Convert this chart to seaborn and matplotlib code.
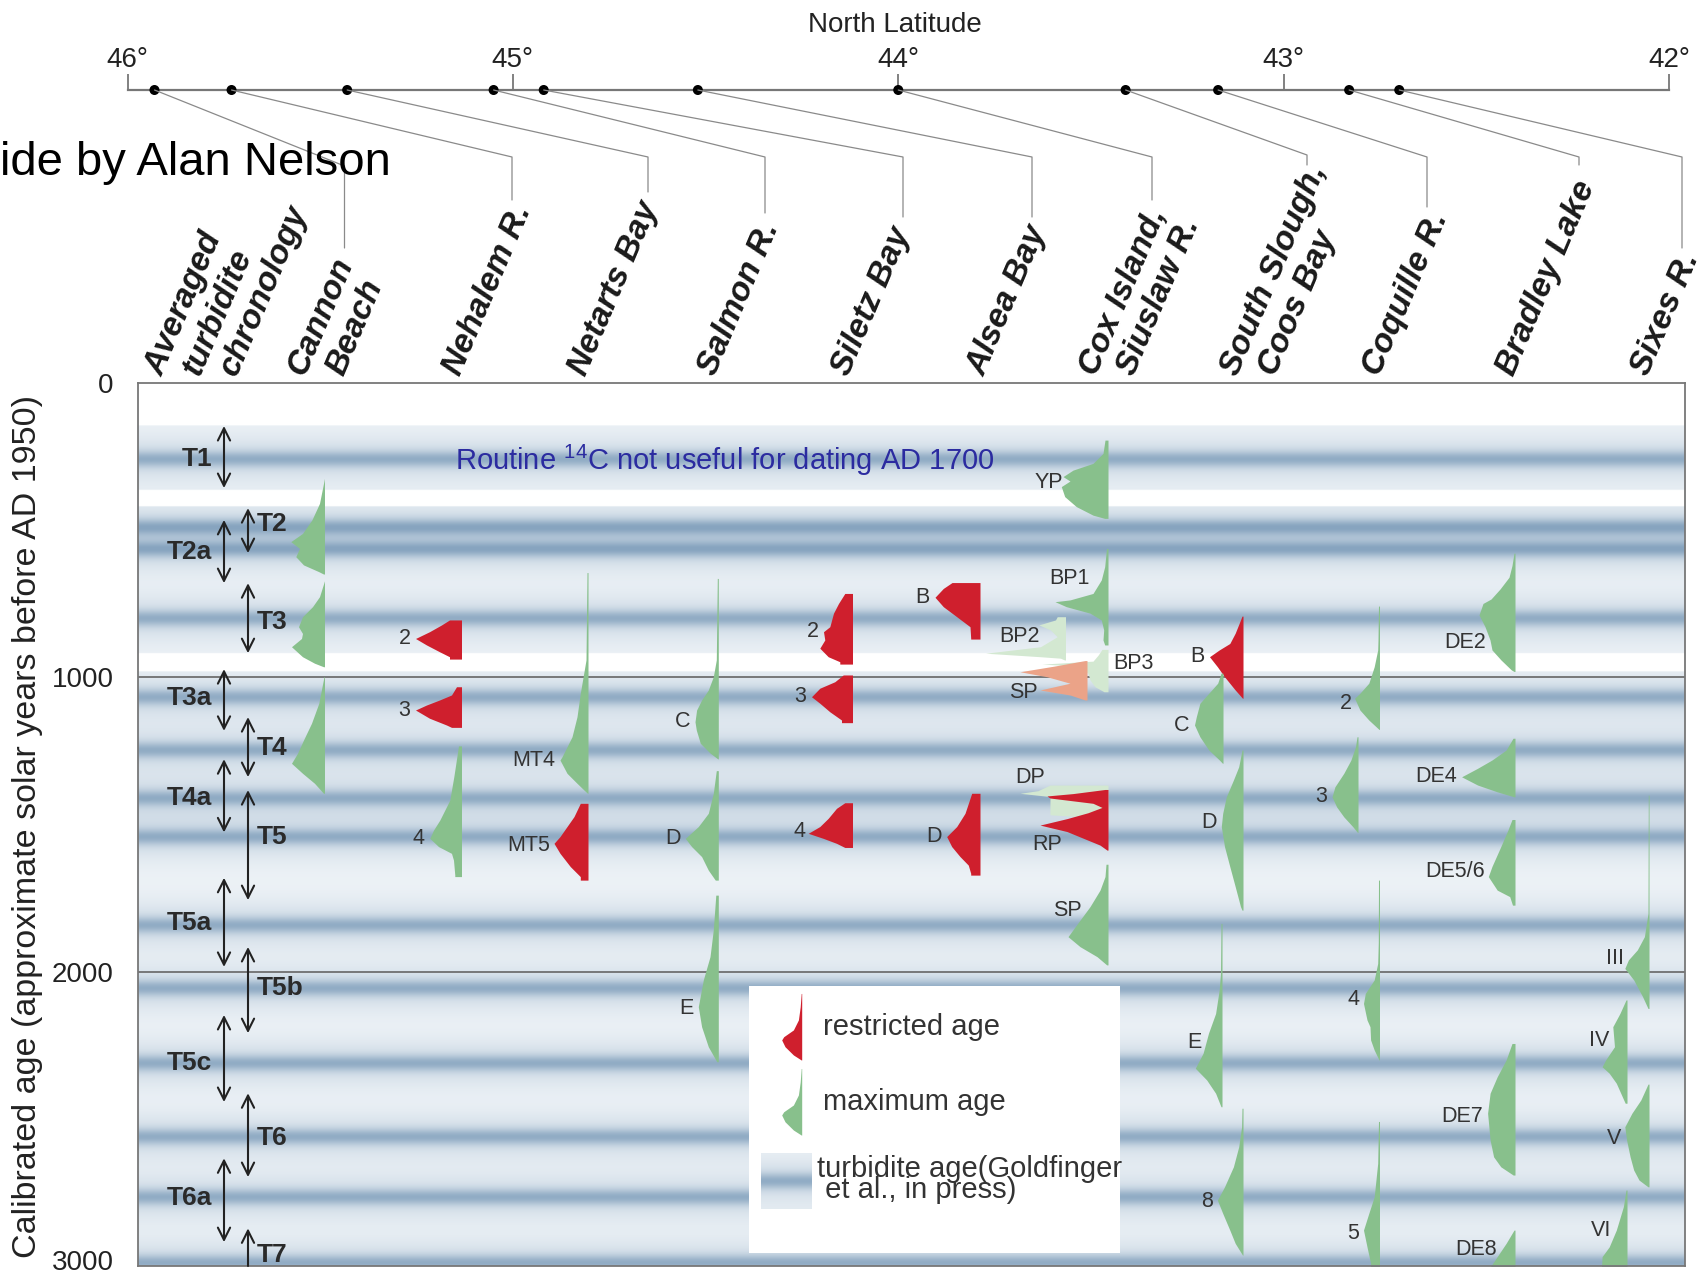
import numpy as np
import matplotlib
matplotlib.use("Agg")
import matplotlib.pyplot as plt
from matplotlib.lines import Line2D
from matplotlib.patches import Rectangle
from matplotlib.transforms import ScaledTranslation
import seaborn as sns

sns.set_style("white")
plt.rcParams["font.family"] = ["Liberation Sans", "DejaVu Sans"]
plt.rcParams["mathtext.fontset"] = "custom"
plt.rcParams["mathtext.rm"] = "Liberation Sans"

W, H = 1708, 1276

# ---------------- data ----------------
site_names = ["Averaged\nturbidite\nchronology", "Cannon\nBeach", "Nehalem R.", "Netarts Bay",
              "Salmon R.", "Siletz Bay", "Alsea Bay", "Cox Island,\nSiuslaw R.",
              "South Slough,\nCoos Bay", "Coquille R.", "Bradley Lake", "Sixes R."]
site_lat = [45.93, 45.73, 45.43, 45.05, 44.92, 44.52, 44.00, 43.41, 43.17, 42.83, 42.70]

# turbidite stripe ages (Goldfinger et al.)
stripe_age = [258, 489, 564, 799, 1067, 1247, 1410, 1542, 1842, 2056, 2311, 2561, 2766, 2990]
gap_age = [(0, 143), (363, 418), (918, 979)]

# averaged turbidite chronology (arrow spans)
left_names = ["T1", "T2a", "T3a", "T4a", "T5a", "T5c", "T6a"]
left_span = [(146, 357), (465, 680), (972, 1182), (1278, 1527), (1681, 1984), (2147, 2443), (2634, 2919)]
left_label_age = [258, 574, 1070, 1410, 1835, 2311, 2770]
right_names = ["T2", "T3", "T4", "T5", "T5b", "T6", "T7"]
right_span = [(425, 578), (680, 918), (1135, 1339), (1383, 1757), (1916, 2209), (2413, 2698), (2872, 3000)]
right_label_age = [479, 812, 1240, 1542, 2056, 2566, 2963]

# age distributions: (label, kind, ages, density widths, label age)
cannon = [
    ("", "maximum", [324, 409, 465, 511, 539, 562, 590, 618, 641, 649], [0, 5, 12.6, 22, 33.7, 25, 28.7, 21, 5.7, 1], 0),
    ("", "maximum", [672, 726, 760, 794, 828, 851, 868, 896, 930, 952, 964], [0, 5, 12, 22, 26, 22, 23, 33, 22, 10, 1], 0),
    ("", "maximum", [998, 1088, 1156, 1213, 1258, 1292, 1326, 1360, 1394], [0.5, 5.7, 13, 21, 27, 33, 22, 10, 1], 0),
]
nehalem = [
    ("2", "restricted", [805, 822, 845, 868, 890, 913, 930, 938], [12, 20, 32, 46, 35, 22, 12, 12], 868),
    ("3", "restricted", [1032, 1060, 1077, 1094, 1111, 1139, 1162, 1170], [5, 10, 22, 35, 46, 32, 15, 10], 1111),
    ("4", "maximum", [1233, 1338, 1417, 1485, 1519, 1547, 1575, 1598, 1621, 1672, 1677],
     [3, 7.7, 11.7, 21.7, 28, 31.7, 23, 10, 8, 6.7, 6.7], 1547),
]
netarts = [
    ("MT4", "maximum", [644, 941, 1054, 1134, 1202, 1270, 1281, 1326, 1360, 1383, 1394],
     [1, 2, 7.7, 11, 16, 26, 28, 21, 11, 4, 0.5], 1281),
    ("MT5", "restricted", [1428, 1473, 1507, 1541, 1564, 1598, 1643, 1677, 1689],
     [7.7, 14, 21, 28, 34, 28, 17.7, 7.7, 7.7], 1570),
]
salmon = [
    ("C", "maximum", [664, 941, 998, 1043, 1077, 1111, 1151, 1179, 1224, 1258, 1277],
     [1, 2, 5, 10, 16.7, 21.7, 23.3, 22, 18, 8, 0.5], 1151),
    ("D", "maximum", [1317, 1394, 1462, 1507, 1547, 1575, 1609, 1655, 1689], [2, 5, 10, 20, 33, 26.7, 16.7, 10, 3], 1547),
    ("E", "maximum", [1740, 1858, 1949, 2028, 2119, 2187, 2255, 2306], [2.5, 5, 8.3, 15, 20, 16.7, 10, 1.5], 2125),
]
siletz = [
    ("2", "restricted", [715, 749, 782, 828, 845, 873, 901, 930, 947, 955],
     [7.7, 14, 19, 22.7, 29, 27.7, 32.7, 24.3, 12.7, 12.7], 845),
    ("3", "restricted", [992, 1015, 1037, 1066, 1088, 1117, 1145, 1154], [9.3, 17.7, 32.7, 41, 32.7, 22.7, 11, 11], 1066),
    ("4", "restricted", [1426, 1445, 1479, 1507, 1530, 1547, 1564, 1578], [7.7, 16, 24.3, 32.7, 44.3, 29.3, 16, 7.7], 1525),
]
alsea = [
    ("B", "restricted", [678, 698, 728, 760, 794, 828, 868, 870], [28, 36.7, 45, 36.7, 23.3, 10, 9.3, 9.3], 728),
    ("D", "restricted", [1394, 1462, 1507, 1541, 1575, 1609, 1638, 1666, 1672],
     [8.3, 15, 23.3, 33.3, 28.3, 20, 11.7, 9.3, 9.3], 1541),
]
cox = [
    ("YP", "maximum", [194, 239, 273, 296, 318, 333, 352, 386, 420, 449, 460],
     [3, 5, 15, 35, 45, 38, 46.7, 43.3, 31.7, 15, 3.3], 338),
    ("BP1", "maximum", [562, 624, 669, 715, 737, 743, 760, 782, 805, 839, 873, 890],
     [1.5, 3.3, 6.7, 15, 38, 53, 41.7, 18, 6.7, 4.3, 5, 3.3], 664),
    ("BP2", "pale", [794, 805, 822, 839, 862, 896, 918, 930, 935, 941], [8.3, 10, 26.7, 15, 8.3, 25, 80, 25, 5, 1], 860),
    ("BP3", "pale", [905, 925, 945, 955, 962, 986, 1009, 1032, 1049], [6, 10, 15, 66, 30, 20, 18, 13, 4], 952),
    ("SP", "salmon", [943, 962, 981, 998, 1020, 1043, 1060, 1077], [2, 33, 67, 40, 17, 47, 17, 2], 1053),
    ("DP", "pale", [1366, 1385, 1394, 1405, 1440, 1467, 1475], [58, 70, 88, 58, 58, 58, 20], 1341),
    ("RP", "restricted", [1381, 1395, 1403, 1410, 1428, 1442, 1460, 1480, 1502, 1524, 1570, 1587],
     [3, 35, 61, 58, 15, 6, 20, 41, 68, 41, 8, 1], 1568),
    ("SP", "maximum", [1635, 1677, 1723, 1779, 1825, 1881, 1915, 1949, 1977], [2, 3, 8, 18, 28, 40, 28, 11, 1.3], 1793),
]
coos = [
    ("B", "restricted", [792, 805, 850, 885, 907, 930, 964, 998, 1043, 1071],
     [1, 2.5, 7.8, 13.2, 23.8, 33.5, 25.6, 18.5, 7.8, 0.5], 930),
    ("C", "maximum", [986, 1020, 1054, 1088, 1134, 1162, 1202, 1247, 1281, 1292],
     [2, 5.3, 14.2, 23.1, 26.7, 28.5, 23.1, 14.2, 3.6, 0.5], 1162),
    ("D", "maximum", [1247, 1304, 1349, 1406, 1462, 1507, 1575, 1643, 1711, 1779, 1791],
     [1, 4.3, 9.6, 16.7, 20.3, 21.7, 18.5, 13.2, 7.8, 2.5, 1], 1493),
    ("E", "maximum", [1836, 2006, 2062, 2142, 2209, 2277, 2328, 2368, 2413, 2459],
     [1, 1.5, 2.8, 6.4, 13.5, 18.9, 26.7, 15.3, 6.4, 1], 2240),
    ("8", "maximum", [2464, 2527, 2595, 2663, 2731, 2776, 2821, 2878, 2923, 2963],
     [1, 1.4, 4.3, 9.6, 18.5, 25.6, 20.3, 13.2, 7.8, 0.5], 2781),
]
coquille = [
    ("2", "maximum", [758, 873, 907, 964, 1020, 1054, 1071, 1111, 1145, 1177],
     [1, 1.5, 1.8, 5.3, 10.7, 19.6, 24.9, 19.6, 10.7, 0.5], 1090),
    ("3", "maximum", [1202, 1236, 1281, 1326, 1372, 1406, 1440, 1474, 1507, 1527],
     [1, 2.5, 7.1, 14.2, 23.1, 26, 21.4, 14.2, 5.3, 0.5], 1404),
    ("4", "maximum", [1689, 1900, 1972, 2028, 2074, 2108, 2164, 2187, 2232, 2266, 2300],
     [1, 1.2, 1.8, 5.3, 14.2, 16, 12.5, 9.5, 8.9, 5.3, 0.5], 2093),
    ("5", "maximum", [2509, 2651, 2765, 2821, 2878, 2935, 2991, 3010], [1, 1.8, 5.3, 10.7, 16, 12.5, 8.9, 8.9], 2888),
]
bradley = [
    ("DE2", "maximum", [578, 620, 660, 700, 734, 749, 788, 828, 873, 907, 941, 975, 980],
     [1, 3, 6, 15, 24, 32, 36, 30, 25, 23, 14, 3.6, 1], 882),
    ("DE4", "maximum", [1207, 1247, 1281, 1309, 1338, 1366, 1389, 1406], [2, 8.9, 23.1, 37.4, 53.4, 37.4, 17.8, 1], 1338),
    ("DE5/6", "maximum", [1483, 1519, 1575, 1643, 1677, 1723, 1745, 1774], [3, 7.1, 14.2, 23.1, 26.7, 17.8, 5.3, 2.5], 1659),
    ("DE7", "maximum", [2244, 2300, 2357, 2413, 2481, 2572, 2629, 2663, 2691],
     [3, 8.9, 17.8, 24.9, 27.4, 24.9, 21.4, 14.2, 1.8], 2492),
    ("DE8", "maximum", [2878, 2923, 2968, 3010], [1, 8.9, 17.8, 26], 2943),
]
sixes = [
    ("III", "maximum", [1400, 1802, 1881, 1926, 1960, 1989, 2028, 2085, 2125],
     [0.7, 1, 4.6, 11.7, 20.6, 24.2, 15.3, 6.4, 1], 1956),
    ("IV", "maximum", [2096, 2142, 2187, 2255, 2300, 2323, 2345, 2379, 2447],
     [1, 7.1, 14.2, 12.5, 21.4, 24.9, 17.8, 10.7, 1.8], 2233),
    ("V", "maximum", [2382, 2436, 2481, 2527, 2572, 2629, 2674, 2708, 2731],
     [1, 8.2, 17.1, 24.2, 22.4, 18.9, 15.3, 10, 1], 2566),
    ("VI", "maximum", [2742, 2798, 2878, 2935, 2968, 3010], [1, 3.6, 10.7, 17.8, 24.9, 25.6], 2881),
]
legend_ages = [0, 46, 90, 124, 147, 158, 181, 209, 226]
legend_widths = [0.5, 1.5, 3.3, 8.3, 18, 20, 16.7, 8.3, 0.5]

# ---------------- layout (pixel positions) ----------------
site_dists = [cannon, nehalem, netarts, salmon, siletz, alsea, cox, coos, coquille, bradley, sixes]
site_base = [324.5, 461.5, 588, 718.3, 852.5, 980, 1108, 1243, 1379.5, 1515, 1649]
base_shift = {(6, "BP2"): -42.5, (6, "SP", "salmon"): -21, (7, "C"): -20, (7, "E"): -21,
              (8, "3"): -21.5, (10, "IV"): -22, (10, "VI"): -22}
label_right = {(6, "BP1"): 1090, (6, "BP2"): 1040, (6, "SP", "salmon"): 1038, (6, "RP"): 1062}
label_left = {(6, "BP3"): 1113}
col_line_x = [[162, 200, 237], [304, 343], [460], [586], [715], [849], [984], [1096, 1134],
              [1238, 1276], [1380], [1514], [1648]]
col_line_y = 377
leader_x = [344.5, 512, 648, 765, 903, 1032, 1152, 1307, 1427, 1579, 1682]
leader_bend = [166, 157, 157, 157, 157, 157, 157, 155, 157, 157, 157]
leader_end = [248, 200, 192, 213, 217, 217, 200, 165, 207, 165, 248]

kind_color = {"restricted": "#cf1f2d", "maximum": "#88c08c", "pale": "#d3e8d1", "salmon": "#eba388"}
txt_col = "#333333"


def fig_xy(x, y):
    return x / W, 1 - y / H


fig = plt.figure(figsize=(W / 100, H / 100), dpi=100)

# ---------------- main panel ----------------
ax = fig.add_axes([138 / W, (H - 1266) / H, (1685 - 138) / W, (1266 - 383) / H])
ax.set_xlim(138, 1685)
ax.set_ylim(3000, 0)

grid = np.arange(0, 3001)
dark = np.zeros(grid.size)
for t in stripe_age:
    dark += 0.62 * np.exp(-0.5 * ((grid - t) / 19) ** 2) + 0.28 * np.exp(-0.5 * ((grid - t) / 55) ** 2)
dark = np.clip(dark, 0, 1)
light = np.array([0.93, 0.95, 0.967])
deep = np.array([0.53, 0.645, 0.75])
rgb = light + (deep - light) * dark[:, None]
for a0, a1 in gap_age:
    rgb[(grid >= a0) & (grid <= a1)] = 1.0
ax.imshow(rgb[:, None, :], extent=[138, 1685, 3000, 0], aspect="auto", interpolation="bilinear", zorder=0)

for a in (1000, 2000):
    ax.axhline(a, color="#6f6f6f", lw=1.3, zorder=1)

ax.set_yticks([0, 1000, 2000, 3000])
ax.set_yticks(np.arange(0, 3001, 100), minor=True)
ax.set_xticks([])
ax.tick_params(axis="y", which="major", length=12.5, width=1.2, color="#666666", labelsize=20,
               pad=5, labelcolor="#222222")
ax.tick_params(axis="y", which="minor", length=9.7, width=1.1, color="#666666")
for s in ax.spines.values():
    s.set_color("#777777")
    s.set_linewidth(1.3)
# keep the bottom tick label inside the figure
last_lab = ax.get_yticklabels()[-1]
last_lab.set_transform(last_lab.get_transform() + ScaledTranslation(0, 4 / 72, fig.dpi_scale_trans))

# averaged chronology arrows
arrow_kw = dict(color="#222222", lw=1.5, mutation_scale=22, shrinkA=0, shrinkB=0)
for names, spans, lab_ages, x_arrow, side in ((left_names, left_span, left_label_age, 224, "left"),
                                             (right_names, right_span, right_label_age, 248, "right")):
    for n, (a0, a1), la in zip(names, spans, lab_ages):
        if a1 < 3000:
            ax.annotate("", xy=(x_arrow, a1), xytext=(x_arrow, a0),
                        arrowprops=dict(arrowstyle="<->", **arrow_kw), zorder=3)
        else:
            ax.annotate("", xy=(x_arrow, a0), xytext=(x_arrow, 3000),
                        arrowprops=dict(arrowstyle="->", **arrow_kw), annotation_clip=False, zorder=3)
        if side == "left":
            ax.text(212, la, n, ha="right", va="center", fontsize=19, fontweight="bold", color="#2a2a2a", zorder=4)
        else:
            ax.text(257, la, n, ha="left", va="center", fontsize=19, fontweight="bold", color="#2a2a2a", zorder=4)

# distributions
for si, dists in enumerate(site_dists):
    for lab, kind, ages, widths, lab_age in dists:
        key = (si, lab, kind) if (si, lab, kind) in base_shift or (si, lab, kind) in label_right else (si, lab)
        base = site_base[si] + base_shift.get(key, 0)
        ages = np.asarray(ages, float)
        widths = np.asarray(widths, float)
        ax.fill_betweenx(ages, base - widths, base, color=kind_color[kind], lw=0, zorder=2)
        if not lab:
            continue
        if key in label_left:
            ax.text(label_left[key], lab_age, lab, ha="left", va="center", fontsize=15.5, color=txt_col, zorder=5)
        else:
            xr = label_right.get(key, base - np.interp(lab_age, ages, widths) - 5)
            ax.text(xr, lab_age, lab, ha="right", va="center", fontsize=15.5, color=txt_col, zorder=5)

ax.text(455, 262, r"Routine $^{\mathregular{14}}$C not useful for dating AD 1700", color="#2b2ba0",
        fontsize=21, ha="left", va="center", zorder=5)

# legend box
ax.add_patch(Rectangle((749, 2049), 1120 - 749, 2956 - 2049, facecolor="white", edgecolor="none", zorder=6))
la = np.asarray(legend_ages, float)
lw_ = np.asarray(legend_widths, float)
ax.fill_betweenx(2074 + la, 801.7 - lw_, 801.7, color=kind_color["restricted"], lw=0, zorder=7)
ax.fill_betweenx(2329 + la, 801.7 - lw_, 801.7, color=kind_color["maximum"], lw=0, zorder=7)
sw = (grid >= 2466) & (grid <= 2656)
ax.imshow(rgb[sw][:, None, :], extent=[760.7, 811.7, 2806, 2616], aspect="auto", interpolation="bilinear", zorder=7)
ax.set_xlim(138, 1685)
ax.set_ylim(3000, 0)
ax.text(823, 2187, "restricted age", fontsize=21, color=txt_col, va="center", ha="left", zorder=8)
ax.text(823, 2442, "maximum age", fontsize=21, color=txt_col, va="center", ha="left", zorder=8)
ax.text(817, 2706, "turbidite age(Goldfinger\n et al., in press)", fontsize=21, color=txt_col,
        va="center", ha="left", linespacing=0.72, zorder=8)

# ---------------- latitude axis ----------------
ax_lat = fig.add_axes([127.5 / W, (H - 90) / H - 1 / H, (1669 - 127.5) / W, 1 / H])
ax_lat.set_xlim(46, 42)
ax_lat.set_ylim(0, 1)
for side in ("left", "right", "bottom"):
    ax_lat.spines[side].set_visible(False)
ax_lat.spines["top"].set_color("#777777")
ax_lat.spines["top"].set_linewidth(1.6)
ax_lat.xaxis.tick_top()
ax_lat.set_xticks([46, 45, 44, 43, 42])
ax_lat.set_xticklabels(["46°", "45°", "44°", "43°", "42°"])
ax_lat.set_yticks([])
ax_lat.tick_params(axis="x", direction="out", length=11.5, width=1.3, color="#777777", labelsize=20,
                   pad=1, labelcolor="#222222")
ax_lat.patch.set_alpha(0)
sns.scatterplot(x=site_lat, y=[1] * len(site_lat), ax=ax_lat, color="black", s=52, edgecolor="none",
                clip_on=False, zorder=6, legend=False)
fig.text(*fig_xy(894.5, 25), "North Latitude", fontsize=20, ha="center", va="center", color="#222222")

# leader lines from latitude dots to site columns
to_fig = fig.transFigure.inverted()
for lat, lx, by, ey in zip(site_lat, leader_x, leader_bend, leader_end):
    dx, dy = ax_lat.transData.transform((lat, 1))
    p0 = to_fig.transform((dx, dy))
    p1 = fig_xy(lx, by)
    p2 = fig_xy(lx, ey)
    fig.add_artist(Line2D([p0[0], p1[0], p2[0]], [p0[1], p1[1], p2[1]], transform=fig.transFigure,
                          color="#8a8a8a", lw=0.9, zorder=1))

# column headings
for name, xs in zip(site_names, col_line_x):
    for line, x in zip(name.split("\n"), xs):
        fig.text(*fig_xy(x, col_line_y), line, rotation=67, rotation_mode="anchor", ha="left", va="baseline",
                 fontsize=24, fontweight="bold", fontstyle="italic", color="#1a1a1a")

fig.text(*fig_xy(28, 826), "Calibrated age (approximate solar years before AD 1950)", rotation=90,
         ha="center", va="center", fontsize=24.5, color="#222222")
fig.text(*fig_xy(0, 175), "ide by Alan Nelson", fontsize=34, ha="left", va="baseline", color="black")

fig.savefig("out.png", dpi=100)
